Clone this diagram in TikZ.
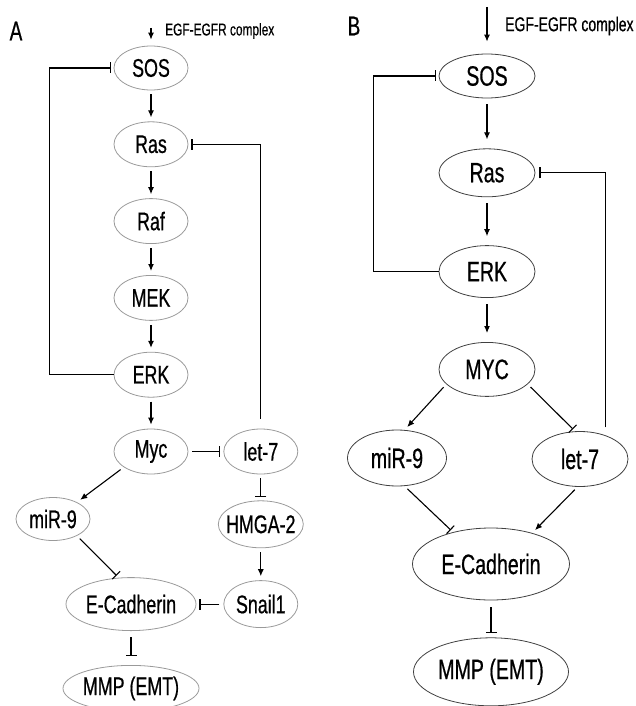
\documentclass[tikz,border=0pt]{standalone}
\usepackage{fontspec}
\setmainfont{Liberation Sans}[FakeStretch=0.7, FakeBold=0.6]
\usetikzlibrary{arrows.meta, positioning, shapes.geometric}
\definecolor{ovalgray}{HTML}{9A9A9A}
\definecolor{ovaldark}{HTML}{404040}

\begin{document}
\begin{tikzpicture}[
      x=1pt, y=-1pt,
      ovalA/.style={ellipse, draw=ovalgray, line width=0.8pt, inner sep=0pt, minimum width=#1, minimum height=45pt, font=\fontsize{25.5}{28}\selectfont},
      ovalA/.default=74pt,
      ovalB/.style={ellipse, draw=ovaldark, line width=0.8pt, inner sep=0pt, minimum width=#1, minimum height=52pt, font=\fontsize{28}{31}\selectfont},
      ovalB/.default=96pt,
      act/.style={-{Latex[length=7pt, width=6pt]}, line width=1.1pt, shorten <=4pt, shorten >=4pt},
      actB/.style={act, shorten <=6pt, shorten >=9pt},
      inh/.style={-{Bar[width=11pt, line width=1.1pt]}, line width=1.1pt, shorten <=4pt, shorten >=3pt},
      panel/.style={font=\fontsize{27}{30}\selectfont, inner sep=0pt},
      signal/.style={anchor=west, inner sep=0pt, font=\fontsize{17}{20}\selectfont}
  ]
    \useasboundingbox (0,0) rectangle (636,706);

    % panel A
    \node[panel] (labA) at (16,31) {A};
    \coordinate (egfA) at (151,24);
    \node[signal] (txtA) at (165,31) {EGF-EGFR complex};
    \node[ovalA, minimum height=44pt] (sosA) at (151,68) {SOS};
    \node[ovalA, below=31pt of sosA] (rasA) {Ras};
    \node[ovalA, below=31pt of rasA] (rafA) {Raf};
    \node[ovalA, below=31pt of rafA] (mekA) {MEK};
    \node[ovalA, below=31pt of mekA] (erkA) {ERK};
    \node[ovalA, below=31pt of erkA] (mycA) {Myc};
    \node[ovalA, right=35pt of mycA] (let7A) {let-7};
    \node[ovalA=85pt, inner xsep=-5pt, minimum height=47pt, below=26pt of let7A] (hmgaA) {HMGA-2};
    \node[ovalA, minimum height=47pt, below=32pt of hmgaA] (snailA) {Snail1};
    \node[ovalA=130pt, minimum height=53pt, left=27pt of snailA] (ecadA) {E-Cadherin};
    \node[ovalA=135pt, minimum height=46pt, below=34pt of ecadA] (mmpA) {MMP (EMT)};
    \node[ovalA, minimum height=43pt] (mir9A) at (53,519) {miR-9};

    \draw[act, shorten >=6pt] (egfA) -- (sosA);
    \draw[act] (sosA) -- (rasA);
    \draw[act] (rasA) -- (rafA);
    \draw[act] (rafA) -- (mekA);
    \draw[act] (mekA) -- (erkA);
    \draw[act] (erkA) -- (mycA);
    \draw[act] (hmgaA) -- (snailA);
    \draw[act] (mycA.210) -- (mir9A.35);
    \draw[inh] (mycA) -- (let7A);
    \draw[inh] (let7A) -- (hmgaA);
    \draw[inh] (snailA) -- (ecadA);
    \draw[inh, shorten <=6pt, shorten >=9pt] (ecadA) -- (mmpA);
    \draw[inh] (mir9A.-35) -- (ecadA.115);
    \draw[inh, shorten <=0pt] (erkA.west) -- ++(-64,0) |- (sosA.west);
    \draw[inh, shorten <=10pt] (let7A.north) |- (rasA.east);

    % panel B
    \node[panel] (labB) at (354,26) {B};
    \coordinate (egfB) at (487,3);
    \node[signal, font=\fontsize{20}{23}\selectfont] (txtB) at (505,26) {EGF-EGFR complex};
    \node[ovalB, minimum height=44pt] (sosB) at (487,76) {SOS};
    \node[ovalB, minimum height=48pt, below=50pt of sosB] (rasB) {Ras};
    \node[ovalB, below=48pt of rasB] (erkB) {ERK};
    \node[ovalB, minimum height=54pt, below=44pt of erkB] (mycB) {MYC};
    \node[ovalB=99pt, minimum height=56pt] (mir9B) at (397,458) {miR-9};
    \node[ovalB, minimum height=55pt] (let7B) at (580,459) {let-7};
    \node[ovalB=157pt, minimum height=72pt] (ecadB) at (491,564) {E-Cadherin};
    \node[ovalB=155pt, minimum height=68pt, below=37pt of ecadB] (mmpB) {MMP (EMT)};

    \draw[act, shorten >=12pt] (egfB) -- (sosB);
    \draw[actB] (sosB) -- (rasB);
    \draw[actB] (rasB) -- (erkB);
    \draw[actB] (erkB) -- (mycB);
    \draw[act] (mycB.200) -- (mir9B.75);
    \draw[act] (let7B.-95) -- (ecadB.37);
    \draw[inh] (mycB.-20) -- (let7B.100);
    \draw[inh] (mir9B.-75) -- (ecadB.140);
    \draw[inh, shorten <=7pt, shorten >=4pt] (ecadB) -- (mmpB);
    \draw[inh, shorten <=0pt] (erkB.west) -- ++(-65,0) |- (sosB.west);
    \draw[inh, shorten <=8pt, shorten >=4pt] (let7B.43) |- (rasB.east);
  \end{tikzpicture}
\end{document}
